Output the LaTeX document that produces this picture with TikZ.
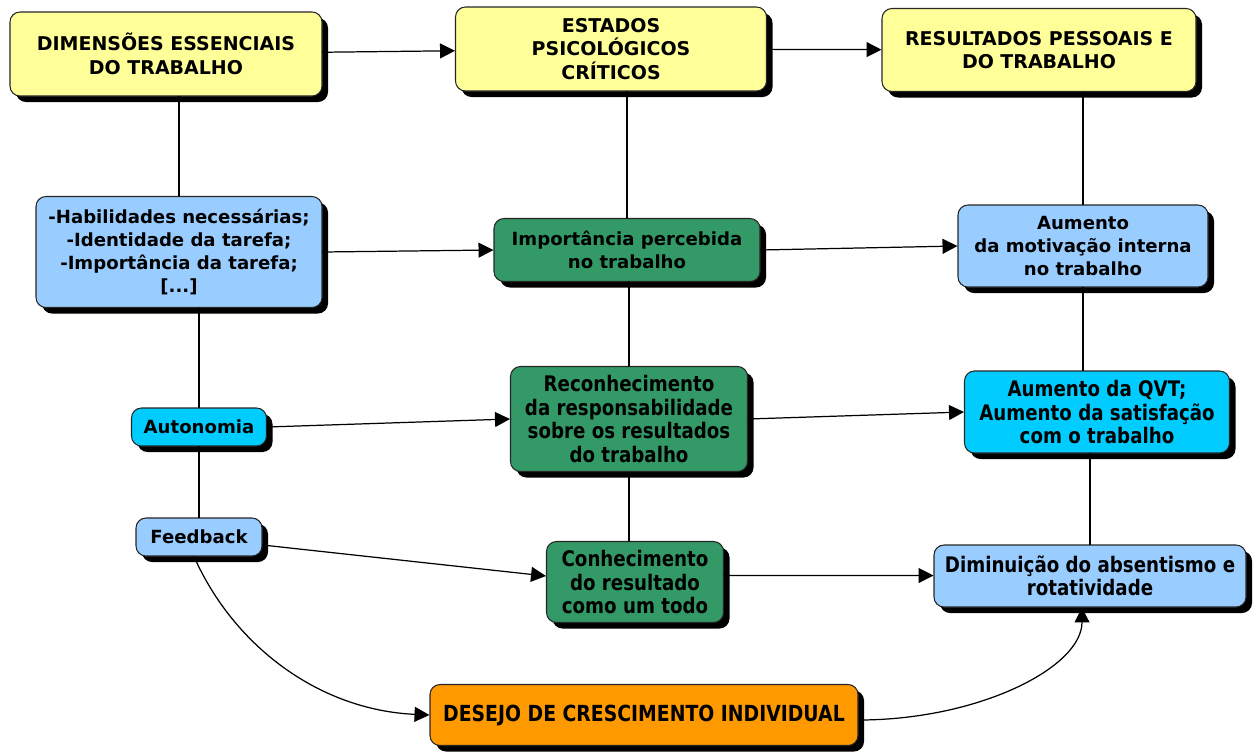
\documentclass[tikz,border=0pt]{standalone}
\usepackage{fontspec}
\setmainfont{DejaVu Sans}
\newfontfamily\narrowfont[FakeStretch=0.85]{DejaVu Sans}
\usetikzlibrary{arrows.meta,shadows}
\definecolor{amarelo}{HTML}{FFFF99}
\definecolor{azulclaro}{HTML}{99CCFF}
\definecolor{ciano}{HTML}{00CCFF}
\definecolor{verde}{HTML}{339966}
\definecolor{laranja}{HTML}{FF9900}
\begin{document}
\begin{tikzpicture}[x=0.2mm,y=-0.2mm,line join=round,line cap=round,>={Triangle[length=8.5pt,width=8.5pt]}]
	\tikzset{caixa/.style={draw=black!85,line width=0.6pt,rounded corners=2mm,align=center,inner sep=2pt,
			font=\bfseries\fontsize{10.3}{13.2}\selectfont,
			drop shadow={shadow xshift=1.2mm,shadow yshift=-1.2mm,fill=black,opacity=1}},
		titulo/.style={font=\bfseries\fontsize{10.8}{13.3}\selectfont},
		estreita/.style={font=\narrowfont\bfseries\fontsize{12.2}{13.3}\selectfont},
		liga/.style={line width=0.7pt}}
	\useasboundingbox (0,0) rectangle (1257,751);
	% linha de cima
	\node[caixa,titulo,fill=amarelo,minimum width=62.4mm,minimum height=16.8mm] (dim) at (166,54) {DIMENSÕES ESSENCIAIS\\DO TRABALHO};
	\node[caixa,titulo,fill=amarelo,minimum width=62.2mm,minimum height=16.8mm] (est) at (611,49) {ESTADOS\\PSICOLÓGICOS\\CRÍTICOS};
	\node[caixa,titulo,fill=amarelo,minimum width=62.8mm,minimum height=16.6mm] (res) at (1039,50) {RESULTADOS PESSOAIS E\\DO TRABALHO};
	% dimensoes
	\node[caixa,fill=azulclaro,minimum width=57.2mm,minimum height=22.2mm] (hab) at (179,252) {-Habilidades necessárias;\\-Identidade da tarefa;\\-Importância da tarefa;\\{[...]}};
	\node[caixa,fill=ciano,minimum width=27mm,minimum height=7.6mm] (aut) at (199,427) {Autonomia};
	\node[caixa,fill=azulclaro,minimum width=25.2mm,minimum height=7.6mm] (fee) at (199,537) {Feedback};
	% estados
	\node[caixa,fill=verde,minimum width=53.2mm,minimum height=12.6mm] (imp) at (627,250) {Importância percebida\\no trabalho};
	\node[caixa,estreita,fill=verde,minimum width=47.4mm,minimum height=21mm] (rec) at (629,419) {Reconhecimento\\da responsabilidade\\sobre os resultados\\do trabalho};
	\node[caixa,estreita,fill=verde,minimum width=35.4mm,minimum height=16.2mm] (con) at (635,582) {Conhecimento\\do resultado\\como um todo};
	% resultados
	\node[caixa,fill=azulclaro,minimum width=50mm,minimum height=16.4mm] (mot) at (1083,246) {Aumento\\da motivação interna\\no trabalho};
	\node[caixa,estreita,fill=ciano,minimum width=53mm,minimum height=16.4mm] (qvt) at (1097,412) {Aumento da QVT;\\Aumento da satisfação\\com o trabalho};
	\node[caixa,estreita,fill=azulclaro,minimum width=62.4mm,minimum height=12.4mm] (dmn) at (1090,576) {Diminuição do absentismo e\\rotatividade};
	\node[caixa,estreita,fill=laranja,minimum width=85.6mm,minimum height=12.2mm,font=\narrowfont\bfseries\fontsize{12.6}{14}\selectfont] (des) at (644,715) {DESEJO DE CRESCIMENTO INDIVIDUAL};
	% ligacoes verticais
	\draw[liga] (hab.north) -- (hab.north |- dim.south);
	\draw[liga] (aut.north) -- (aut.north |- hab.south);
	\draw[liga] (fee.north) -- (fee.north |- aut.south);
	\draw[liga] (imp.north) -- (imp.north |- est.south);
	\draw[liga] (rec.north) -- (rec.north |- imp.south);
	\draw[liga] (rec.south) -- (rec.south |- con.north);
	\draw[liga] (mot.north) -- (mot.north |- res.south);
	\draw[liga] (mot.south) -- (mot.south |- qvt.north);
	\draw[liga] (dmn.north) -- (dmn.north |- qvt.south);
	% setas
	\draw[liga,->] (dim) -- (est);
	\draw[liga,->] (est) -- (res);
	\draw[liga,->] (hab.east) -- (imp.west);
	\draw[liga,->] (imp.east) -- (mot.west);
	\draw[liga,->] (aut.east) -- (rec.west);
	\draw[liga,->] (rec.east) -- (qvt.west);
	\draw[liga,->] ([yshift=-1.6mm]fee.east) -- ([yshift=1.2mm]con.west);
	\draw[liga,->] ([yshift=1.3mm]con.east) -- ([yshift=0.1mm]dmn.west);
	\draw[liga,->] ([xshift=-1mm]fee.south) .. controls +(40,90) and +(-110,-5) .. (des.west);
	\draw[liga,->] ([yshift=-1mm]des.east) .. controls +(120,0) and +(0,60) .. ([xshift=-1.6mm]dmn.south);
\end{tikzpicture}
\end{document}
